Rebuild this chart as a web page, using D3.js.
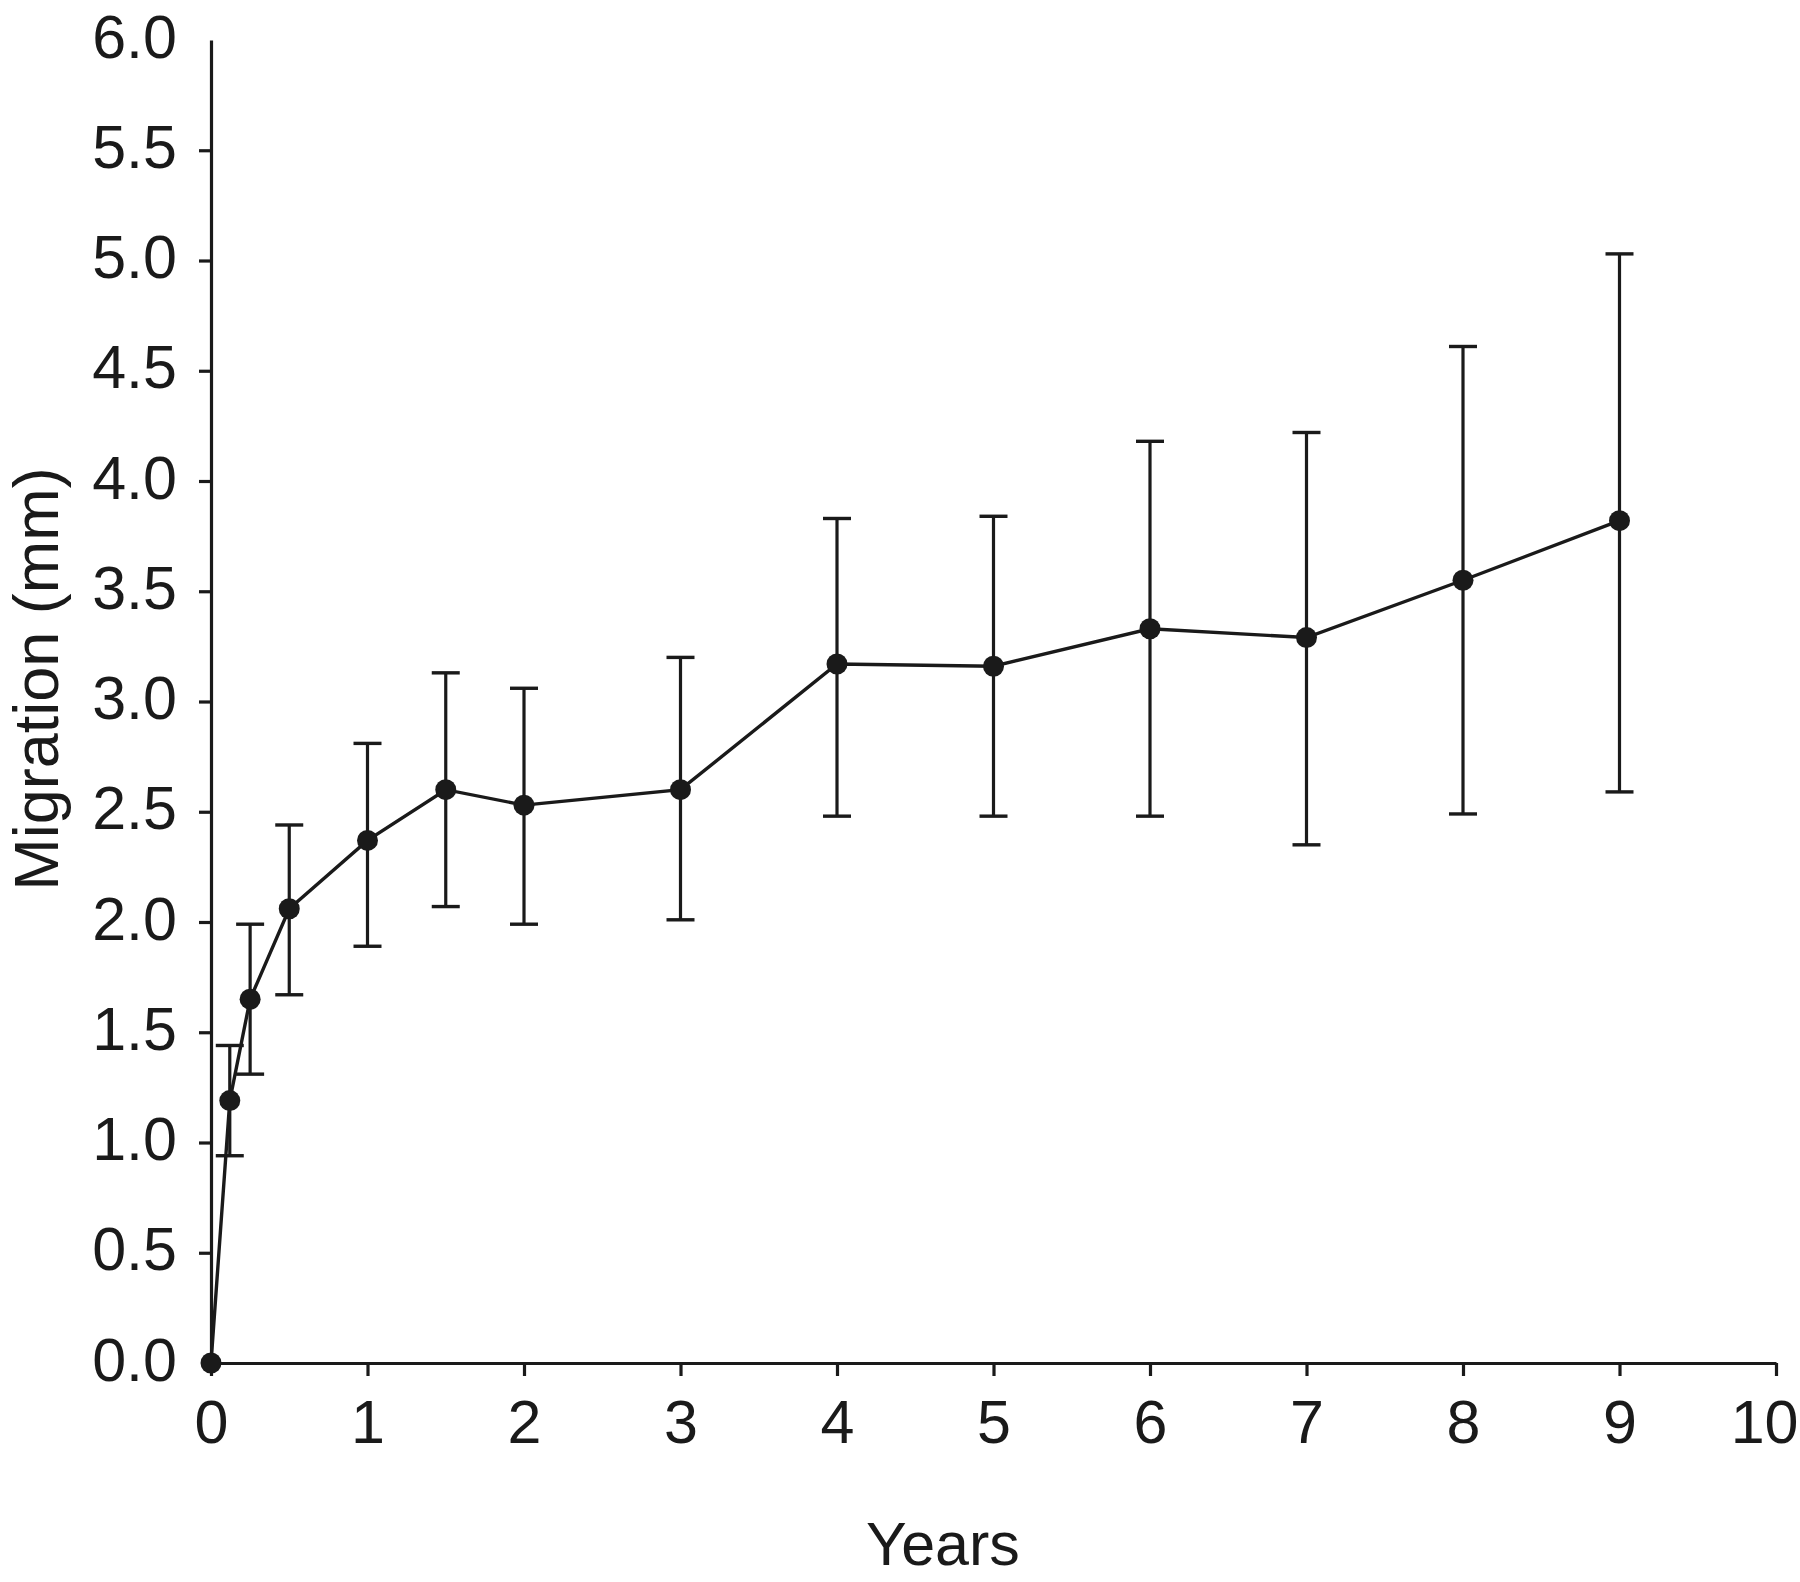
<!DOCTYPE html>
<html>
<head>
<meta charset="utf-8">
<script src="https://cdn.jsdelivr.net/npm/d3@7"></script>
<style>
  body { margin: 0; background: #fff; }
  svg { display: block; font-family: "Liberation Sans", Arial, sans-serif; }
</style>
</head>
<body>
<div id="chart"></div>
<script>
// Mean migration over time, with error bars
const years     = [0, 0.12, 0.25, 0.5, 1, 1.5, 2, 3, 4, 5, 6, 7, 8, 9];
const migration = [0, 1.19, 1.65, 2.06, 2.37, 2.60, 2.53, 2.60, 3.17, 3.16, 3.33, 3.29, 3.55, 3.82];
const upper     = [null, 1.44, 1.99, 2.44, 2.81, 3.13, 3.06, 3.20, 3.83, 3.84, 4.18, 4.22, 4.61, 5.03];
const lower     = [null, 0.94, 1.31, 1.67, 1.89, 2.07, 1.99, 2.01, 2.48, 2.48, 2.48, 2.35, 2.49, 2.59];

const xTicks = [0, 1, 2, 3, 4, 5, 6, 7, 8, 9, 10];
const yTicks = [0, 0.5, 1, 1.5, 2, 2.5, 3, 3.5, 4, 4.5, 5, 5.5, 6];

const width = 1800;
const height = 1582;
const ink = '#1a1a1a';

const svg = d3.select('#chart')
    .append('svg')
    .attr('width', width)
    .attr('height', height);

const x = d3.scaleLinear().domain([0, 10]).range([211, 1776]);
const y = d3.scaleLinear().domain([0, 6]).range([1363, 40]);

const points = years.map((d, i) => ({
    t: d, v: migration[i], hi: upper[i], lo: lower[i]
}));

// y axis
const yAxis = svg.append('g')
    .attr('transform', `translate(${x(0)},0)`)
    .call(d3.axisLeft(y)
        .tickValues(yTicks)
        .tickFormat(d3.format('.1f'))
        .tickSizeInner(12)
        .tickSizeOuter(0)
        .tickPadding(22));

// no tick mark at the ends of the axis
yAxis.selectAll('.tick').filter(d => d === 6 || d === 0).select('line').remove();

// x axis
const xAxis = svg.append('g')
    .attr('transform', `translate(0,${y(0)})`)
    .call(d3.axisBottom(x)
        .tickValues(xTicks)
        .tickFormat(d3.format('d'))
        .tickSizeInner(13)
        .tickSizeOuter(0)
        .tickPadding(24));

[yAxis, xAxis].forEach(g => {
    g.select('.domain').attr('stroke', ink).attr('stroke-width', 3.2);
    g.selectAll('.tick line').attr('stroke', ink).attr('stroke-width', 3.2);
    g.selectAll('.tick text')
        .attr('fill', ink)
        .attr('font-size', '61px')
        .attr('font-family', '"Liberation Sans", Arial, sans-serif');
});
yAxis.selectAll('.tick text').attr('dy', '0.28em');

// last label sits against the right edge, as in the original
xAxis.selectAll('.tick').filter(d => d === 10).select('text')
    .attr('text-anchor', 'end')
    .attr('x', 22);

// error bars
const bars = points.filter(d => d.hi !== null);
const capHalf = 14;

svg.append('g')
    .selectAll('line')
    .data(bars)
    .enter().append('line')
    .attr('x1', d => x(d.t))
    .attr('x2', d => x(d.t))
    .attr('y1', d => y(d.hi))
    .attr('y2', d => y(d.lo))
    .attr('stroke', ink)
    .attr('stroke-width', 3.2);

const caps = svg.append('g');
['hi', 'lo'].forEach(key => {
    caps.selectAll(`.cap-${key}`)
        .data(bars)
        .enter().append('line')
        .attr('class', `cap-${key}`)
        .attr('x1', d => x(d.t) - capHalf)
        .attr('x2', d => x(d.t) + capHalf)
        .attr('y1', d => y(d[key]))
        .attr('y2', d => y(d[key]))
        .attr('stroke', ink)
        .attr('stroke-width', 3.4);
});

// mean line
const line = d3.line()
    .x(d => x(d.t))
    .y(d => y(d.v));

svg.append('path')
    .datum(points)
    .attr('d', line)
    .attr('fill', 'none')
    .attr('stroke', ink)
    .attr('stroke-width', 3.4);

// points
svg.append('g')
    .selectAll('circle')
    .data(points)
    .enter().append('circle')
    .attr('cx', d => x(d.t))
    .attr('cy', d => y(d.v))
    .attr('r', 10.5)
    .attr('fill', ink);

// axis titles
svg.append('text')
    .attr('x', 943)
    .attr('y', 1565)
    .attr('text-anchor', 'middle')
    .attr('font-size', '61px')
    .attr('fill', ink)
    .text('Years');

svg.append('text')
    .attr('transform', 'translate(58,679) rotate(-90)')
    .attr('text-anchor', 'middle')
    .attr('font-size', '63px')
    .attr('fill', ink)
    .text('Migration (mm)');
</script>
</body>
</html>
